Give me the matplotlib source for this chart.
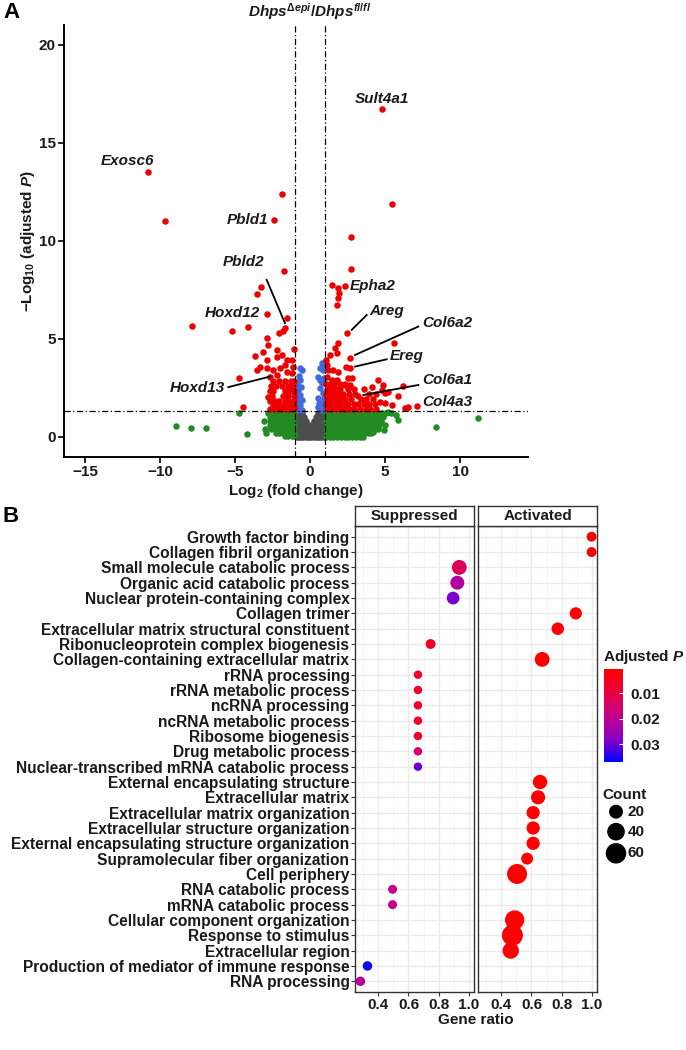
#!/usr/bin/env python3
"""Volcano plot (A) and GO enrichment dot plot (B)."""

import numpy as np
import matplotlib
matplotlib.use('Agg')
import matplotlib.pyplot as plt
from matplotlib.colors import LinearSegmentedColormap, Normalize
from matplotlib.colorbar import ColorbarBase

plt.rcParams['font.family'] = ['Liberation Sans', 'DejaVu Sans']
plt.rcParams['font.weight'] = 'bold'
plt.rcParams['mathtext.fontset'] = 'custom'
plt.rcParams['mathtext.rm'] = 'Liberation Sans:bold'
plt.rcParams['mathtext.it'] = 'Liberation Sans:italic:bold'
plt.rcParams['mathtext.bf'] = 'Liberation Sans:bold'

# ---------------- panel A data (log2 fold change, -log10 adjusted P) ----------------
red_x = [4.82, -10.82, -1.85, 5.49, -9.67, -2.4, 2.71, -1.73, 2.71, -3.29, -3.56,
         1.44, 1.89, 2.33, 1.96, 1.89, 1.82, -2.89, -1.55, -7.85, -5.18, -4.11,
         -1.67, -1.78, -2.05, -2.89, 2.44, 5.62, 1.84, 1.67, 1.78, 1.33, 1.04, 1.11,
         2.67, 2.67, 2.38, 1.22, 1.56, 1.89, 1.11, 1.44, 1.78, 2.56, 2.78, 2.33, 2.67,
         4.56, 4.89, 6.22, 3.22, 4.78, 5.0, 5.22, 5.89, 4.11, 7.11, 6.56, 6.33, 6.44,
         5.0, 5.44, 4.67,
         -1.07, -2.78, -3.11, -3.67, -2.89, -2.22, -2.22, -1.89, -1.55, -1.22, -1.11,
         -3.33, -2.89, -3.55, -2.45, -2.0, -1.67, -1.55, -1.22, -2.22, -2.67, -4.71,
         -2.78, -4.49,
         -2.5, -2.1, -1.7, -1.3, -1.05,
         -2.6, -2.3, -1.9, -1.5, -1.15,
         -2.7, -2.45, -1.65, -1.35, -1.05,
         -2.55, -1.8, -1.45, -1.1,
         -2.65, -2.35, -2.05, -1.7, -1.4, -1.1,
         -2.5, -2.2, -1.9, -1.6, -1.3, -1.05,
         -2.7, -2.35, -2.0, -1.7, -1.4, -1.1,
         1.05, 1.3, 1.6, 2.0, 2.3,
         1.1, 1.4, 1.7, 2.0, 2.5, 2.9, 3.6,
         1.05, 1.3, 1.6, 1.9, 2.2, 2.6, 3.0, 3.9, 4.4,
         1.1, 1.4, 1.7, 2.0, 2.3, 2.7, 3.4, 3.7, 4.2,
         1.05, 1.35, 1.65, 1.95, 2.25, 2.55, 2.9, 3.2, 3.6, 3.95, 4.3,
         1.1, 1.4, 1.7, 2.0, 2.3, 2.6, 2.9, 3.3, 3.7, 4.0, 4.4]
red_y = [16.72, 13.5, 12.41, 11.89, 11.02, 11.07, 10.17, 8.48, 8.57, 7.67, 7.30,
         7.76, 7.59, 7.7, 7.36, 7.07, 6.73, 6.28, 6.09, 5.68, 5.42, 5.6,
         5.58, 5.42, 5.29, 5.04, 5.32, 4.81, 4.81, 4.52, 4.27, 4.18, 3.93, 3.67,
         4.01, 3.5, 3.59, 3.42, 3.42, 3.33, 3.08, 2.91, 2.91, 2.99, 2.99, 2.65, 2.65,
         2.91, 2.65, 2.6, 2.09, 2.4, 2.23, 2.31, 2.09, 2.57, 1.6, 1.55, 1.46, 1.49,
         1.72, 1.63, 1.8,
         4.47, 4.69, 4.35, 4.13, 3.93, 4.1, 4.44, 4.18, 3.93, 3.93, 3.59,
         3.59, 3.5, 3.42, 3.42, 3.5, 3.67, 3.33, 3.25, 3.16, 3.08, 3.03,
         2.06, 1.55,
         2.85, 2.85, 2.85, 2.85, 2.85,
         2.6, 2.6, 2.6, 2.6, 2.6,
         2.35, 2.35, 2.35, 2.35, 2.35,
         2.1, 2.1, 2.1, 2.1,
         1.85, 1.85, 1.85, 1.85, 1.85, 1.85,
         1.6, 1.6, 1.6, 1.6, 1.6, 1.6,
         1.42, 1.42, 1.42, 1.42, 1.42, 1.42,
         2.7, 2.7, 2.7, 2.7, 2.7,
         2.45, 2.45, 2.45, 2.45, 2.45, 2.45, 2.45,
         2.2, 2.2, 2.2, 2.2, 2.2, 2.2, 2.2, 2.2, 2.2,
         1.95, 1.95, 1.95, 1.95, 1.95, 1.95, 1.95, 1.95, 1.95,
         1.7, 1.7, 1.7, 1.7, 1.7, 1.7, 1.7, 1.7, 1.7, 1.7, 1.7,
         1.45, 1.45, 1.45, 1.45, 1.45, 1.45, 1.45, 1.45, 1.45, 1.45, 1.45]

blue_x = [-0.67, -0.56, -0.67, -0.89, -0.8, -0.67, -0.56, -0.67, -0.89, -0.55, -0.75,
          -0.85, -0.95, -0.95, -0.75, -0.62, -0.8,
          0.78, 0.67, 0.89, 0.56, 0.78, 0.67, 0.89, 0.56, 0.78, 0.56, 0.89, 0.7,
          0.95, 0.65, 0.95, 0.85, 0.6, 0.95]
blue_y = [3.5, 3.42, 2.91, 2.65, 2.4, 2.14, 1.89, 1.63, 1.46, 1.4, 1.8,
          2.0, 1.7, 2.2, 3.1, 2.55, 1.4,
          3.76, 3.5, 3.42, 3.08, 2.74, 2.48, 2.23, 1.97, 1.72, 1.55, 1.46, 1.4,
          2.0, 2.9, 3.0, 3.65, 1.75, 1.6]

green_x = [-8.91, -7.93, -6.93, -4.22, -4.73, -3.07, -3.0, -2.93, -2.78,
           5.85, 5.73, 8.38, 11.22, 5.2, 5.4, 5.0, 4.9, 4.22,
           -2.75, -2.5, -2.25, -2.0, -1.75, -1.5, -1.25, -1.05,
           -2.7, -2.45, -2.2, -1.95, -1.7, -1.45, -1.2, -1.05,
           -2.65, -2.4, -2.15, -1.9, -1.65, -1.4, -1.15,
           -2.7, -2.45, -2.2, -1.95, -1.7, -1.45, -1.2, -1.05,
           -2.6, -2.35, -2.1, -1.85, -1.6, -1.35, -1.1,
           -2.3, -2.05, -1.8, -1.55, -1.3, -1.05,
           -1.7, -1.45, -1.2, -1.05,
           1.05, 1.3, 1.55, 1.8, 2.05, 2.3, 2.55, 2.8, 3.05, 3.3, 3.55, 3.8, 4.05, 4.3, 4.55, 4.8, 5.05,
           1.1, 1.35, 1.6, 1.85, 2.1, 2.35, 2.6, 2.85, 3.1, 3.35, 3.6, 3.85, 4.1, 4.35, 4.6, 4.85,
           1.05, 1.3, 1.55, 1.8, 2.05, 2.3, 2.55, 2.8, 3.05, 3.3, 3.55, 3.8, 4.05, 4.3, 4.55, 4.75,
           1.1, 1.35, 1.6, 1.85, 2.1, 2.35, 2.6, 2.85, 3.1, 3.35, 3.6, 3.85, 4.1, 4.35, 4.6,
           1.05, 1.3, 1.55, 1.8, 2.05, 2.3, 2.55, 2.8, 3.05, 3.3, 3.55, 3.8, 4.05, 4.3, 4.5,
           1.1, 1.35, 1.6, 1.85, 2.1, 2.35, 2.6, 2.85, 3.1, 3.35, 3.6, 3.85, 4.05,
           1.05, 1.3, 1.55, 1.8, 2.05, 2.3, 2.55, 2.8, 3.05, 3.3, 3.5]
green_y = [0.58, 0.46, 0.44, 0.15, 1.21, 0.82, 0.39, 0.19, 1.21,
           0.87, 1.12, 0.53, 0.98, 1.25, 1.2, 0.6, 0.35, 0.27,
           1.22, 1.22, 1.22, 1.22, 1.22, 1.22, 1.22, 1.22,
           1.0, 1.0, 1.0, 1.0, 1.0, 1.0, 1.0, 1.0,
           0.8, 0.8, 0.8, 0.8, 0.8, 0.8, 0.8,
           0.6, 0.6, 0.6, 0.6, 0.6, 0.6, 0.6, 0.6,
           0.4, 0.4, 0.4, 0.4, 0.4, 0.4, 0.4,
           0.2, 0.2, 0.2, 0.2, 0.2, 0.2,
           0.05, 0.05, 0.05, 0.05,
           1.22, 1.22, 1.22, 1.22, 1.22, 1.22, 1.22, 1.22, 1.22, 1.22, 1.22, 1.22, 1.22, 1.22, 1.22, 1.22, 1.22,
           1.0, 1.0, 1.0, 1.0, 1.0, 1.0, 1.0, 1.0, 1.0, 1.0, 1.0, 1.0, 1.0, 1.0, 1.0, 1.0,
           0.8, 0.8, 0.8, 0.8, 0.8, 0.8, 0.8, 0.8, 0.8, 0.8, 0.8, 0.8, 0.8, 0.8, 0.8, 0.8,
           0.6, 0.6, 0.6, 0.6, 0.6, 0.6, 0.6, 0.6, 0.6, 0.6, 0.6, 0.6, 0.6, 0.6, 0.6,
           0.4, 0.4, 0.4, 0.4, 0.4, 0.4, 0.4, 0.4, 0.4, 0.4, 0.4, 0.4, 0.4, 0.4, 0.4,
           0.2, 0.2, 0.2, 0.2, 0.2, 0.2, 0.2, 0.2, 0.2, 0.2, 0.2, 0.2, 0.2,
           0.02, 0.02, 0.02, 0.02, 0.02, 0.02, 0.02, 0.02, 0.02, 0.02, 0.02]

gray_x = [-0.95, -0.8, -0.65, -0.55, 0.55, 0.65, 0.8, 0.95,
          -0.95, -0.8, -0.65, -0.5, -0.4, 0.4, 0.5, 0.65, 0.8, 0.95,
          -0.95, -0.8, -0.65, -0.5, -0.35, -0.25, 0.25, 0.35, 0.5, 0.65, 0.8, 0.95,
          -0.95, -0.8, -0.65, -0.5, -0.35, -0.2, -0.1, 0.1, 0.2, 0.35, 0.5, 0.65, 0.8, 0.95,
          -0.9, -0.75, -0.6, -0.45, -0.3, -0.15, 0.0, 0.15, 0.3, 0.45, 0.6, 0.75, 0.9,
          -0.9, -0.75, -0.6, -0.45, -0.3, -0.15, 0.0, 0.15, 0.3, 0.45, 0.6, 0.75, 0.9,
          -0.9, -0.75, -0.6, -0.45, -0.3, -0.15, 0.0, 0.15, 0.3, 0.45, 0.6, 0.75, 0.9]
gray_y = [1.22] * 8 + [1.0] * 10 + [0.8] * 12 + [0.6] * 14 + [0.4] * 13 + [0.2] * 13 + [0.0] * 13

gene_names = ['Sult4a1', 'Exosc6', 'Pbld1', 'Pbld2', 'Epha2', 'Hoxd12', 'Areg',
              'Col6a2', 'Ereg', 'Hoxd13', 'Col6a1', 'Col4a3']
gene_label_x = [4.78, -12.15, -2.8, -4.4, 2.67, -3.33, 3.93, 7.45, 5.33, -5.67, 7.45, 7.51]
gene_label_y = [17.24, 14.08, 11.04, 8.94, 7.7, 6.31, 6.44, 5.8, 4.13, 2.48, 2.91, 1.8]
gene_label_ha = ['center', 'center', 'right', 'center', 'left', 'right', 'left',
                 'left', 'left', 'right', 'left', 'left']
# connector lines: (label end) -> (point end)
conn_x0 = [-2.89, 3.78, 7.22, 5.11, -5.45, 7.22]
conn_y0 = [8.01, 6.22, 5.63, 3.96, 2.54, 2.65]
conn_x1 = [-1.67, 2.78, 3.0, 3.0, -2.67, 3.55]
conn_y1 = [5.8, 5.46, 4.18, 3.59, 3.08, 2.14]

# ---------------- panel B data ----------------
terms = ['Growth factor binding', 'Collagen fibril organization',
         'Small molecule catabolic process', 'Organic acid catabolic process',
         'Nuclear protein-containing complex', 'Collagen trimer',
         'Extracellular matrix structural constituent', 'Ribonucleoprotein complex biogenesis',
         'Collagen-containing extracellular matrix', 'rRNA processing',
         'rRNA metabolic process', 'ncRNA processing', 'ncRNA metabolic process',
         'Ribosome biogenesis', 'Drug metabolic process',
         'Nuclear-transcribed mRNA catabolic process', 'External encapsulating structure',
         'Extracellular matrix', 'Extracellular matrix organization',
         'Extracellular structure organization',
         'External encapsulating structure organization', 'Supramolecular fiber organization',
         'Cell periphery', 'RNA catabolic process', 'mRNA catabolic process',
         'Cellular component organization', 'Response to stimulus', 'Extracellular region',
         'Production of mediator of immune response', 'RNA processing']

sup_terms = ['Small molecule catabolic process', 'Organic acid catabolic process',
             'Nuclear protein-containing complex', 'Ribonucleoprotein complex biogenesis',
             'rRNA processing', 'rRNA metabolic process', 'ncRNA processing',
             'ncRNA metabolic process', 'Ribosome biogenesis', 'Drug metabolic process',
             'Nuclear-transcribed mRNA catabolic process', 'RNA catabolic process',
             'mRNA catabolic process', 'Production of mediator of immune response',
             'RNA processing']
sup_ratio = [0.938, 0.925, 0.897, 0.747, 0.663, 0.663, 0.663, 0.663, 0.663, 0.663,
             0.663, 0.494, 0.494, 0.327, 0.28]
sup_count = [24, 20, 15, 6, 3, 3, 3, 3, 3, 3, 3, 4, 4, 5, 5]
sup_padj = [0.013, 0.022, 0.029, 0.005, 0.007, 0.007, 0.007, 0.007, 0.007, 0.014,
            0.030, 0.019, 0.019, 0.036, 0.021]

act_terms = ['Growth factor binding', 'Collagen fibril organization', 'Collagen trimer',
             'Extracellular matrix structural constituent',
             'Collagen-containing extracellular matrix', 'External encapsulating structure',
             'Extracellular matrix', 'Extracellular matrix organization',
             'Extracellular structure organization',
             'External encapsulating structure organization',
             'Supramolecular fiber organization', 'Cell periphery',
             'Cellular component organization', 'Response to stimulus',
             'Extracellular region']
act_ratio = [1.0, 1.0, 0.895, 0.775, 0.671, 0.657, 0.644, 0.611, 0.611, 0.611,
             0.571, 0.504, 0.488, 0.473, 0.462]
act_count = [6, 6, 13, 14, 24, 22, 21, 17, 17, 17, 12, 56, 51, 64, 32]
act_padj = [0.001, 0.001, 0.001, 0.001, 0.001, 0.001, 0.001, 0.001, 0.001, 0.001,
            0.001, 0.001, 0.001, 0.001, 0.001]

count_breaks = [20, 40, 60]
padj_ticks = [0.01, 0.02, 0.03]

W, H = 686, 1050
fig = plt.figure(figsize=(W / 100, H / 100), dpi=100)


def px_axes(left, top, right, bottom):
    return fig.add_axes([left / W, 1 - bottom / H, (right - left) / W, (bottom - top) / H])


def ftext(x, y, s, **kw):
    return fig.text(x / W, 1 - y / H, s, **kw)


# ---------------- panel A ----------------
ax = px_axes(64, 25, 528, 456.6)
pt = 22
ax.scatter(gray_x, gray_y, s=pt, color='#4D4D4D', linewidths=0, zorder=2)
ax.scatter(green_x, green_y, s=pt, color='#228B22', linewidths=0, zorder=2)
ax.scatter(blue_x, blue_y, s=pt, color='#4169E1', linewidths=0, zorder=2)
ax.scatter(red_x, red_y, s=pt, color='#EE0000', linewidths=0, zorder=3)

dash = (0, (5, 2, 1, 2))
for xv in (-1, 1):
    ax.axvline(xv, color='black', lw=0.9, ls=dash, zorder=4)
ax.axhline(1.3, color='black', lw=0.9, ls=dash, zorder=4)

for x0, y0, x1, y1 in zip(conn_x0, conn_y0, conn_x1, conn_y1):
    ax.plot([x0, x1], [y0, y1], color='black', lw=1.3, zorder=5)
for name, lx, ly, ha in zip(gene_names, gene_label_x, gene_label_y, gene_label_ha):
    ax.text(lx, ly, name, ha=ha, va='center', fontsize=11, fontstyle='italic',
            fontweight='bold', color='#1a1a1a', zorder=6)

ax.set_xlim(-16.4, 14.53)
ax.set_ylim(-1, 21)
ax.set_xticks([-15, -10, -5, 0, 5, 10])
ax.set_yticks([0, 5, 10, 15, 20])
for side in ('top', 'right'):
    ax.spines[side].set_visible(False)
for side in ('left', 'bottom'):
    ax.spines[side].set_linewidth(1.4)
ax.tick_params(direction='out', length=4, width=1.2, labelsize=11, pad=2,
               labelcolor='#1a1a1a')
for lab in ax.get_xticklabels() + ax.get_yticklabels():
    lab.set_fontweight('bold')
ax.set_xlabel('Log$_2$ (fold change)', fontsize=11, fontweight='bold', labelpad=2,
              color='#1a1a1a')
ax.set_ylabel('\u2212Log$_{10}$ (adjusted $P$)', fontsize=11, fontweight='bold',
              labelpad=1, color='#1a1a1a')

ftext(310, 12, r'$Dhps^{\Delta epi}/Dhps^{fl/fl}$', ha='center', va='center',
      fontsize=11, color='#1a1a1a')
ftext(12, 13, 'A', ha='center', va='center', fontsize=16, fontweight='bold')
ftext(11, 517, 'B', ha='center', va='center', fontsize=16, fontweight='bold')

# ---------------- panel B ----------------
cmap = LinearSegmentedColormap.from_list(
    'padj', [(0.0, '#FF0000'), (0.25, '#E8003F'), (0.5, '#C4008A'),
             (0.75, '#8B00C4'), (1.0, '#0000FF')])
norm = Normalize(vmin=0.0006, vmax=0.037)


def dot_size(count):
    d_px = 5 + 2 * np.sqrt(np.asarray(count, dtype=float))
    return (d_px * 0.72) ** 2


row_of = {t: i for i, t in enumerate(terms)}
nrow = len(terms)
ax_s = px_axes(355, 526, 474, 992)
ax_a = px_axes(478, 526, 597, 992)
for axp, tl, ratio, cnt, padj, strip_label, left in (
        (ax_s, sup_terms, sup_ratio, sup_count, sup_padj, 'Suppressed', 355),
        (ax_a, act_terms, act_ratio, act_count, act_padj, 'Activated', 478)):
    ys = [row_of[t] for t in tl]
    axp.scatter(ratio, ys, s=dot_size(cnt), c=padj, cmap=cmap, norm=norm,
                linewidths=0, zorder=3, clip_on=True)
    axp.set_xlim(0.244, 1.036)
    axp.set_ylim(nrow - 1 + 0.7, -0.7)
    axp.set_xticks([0.4, 0.6, 0.8, 1.0])
    axp.set_xticklabels(['0.4', '0.6', '0.8', '1.0'])
    axp.set_xticks([0.3, 0.5, 0.7, 0.9], minor=True)
    axp.set_yticks(range(nrow))
    axp.grid(True, which='major', color='#EBEBEB', lw=1.0, zorder=0)
    axp.grid(True, which='minor', axis='x', color='#F2F2F2', lw=0.6, zorder=0)
    axp.set_axisbelow(True)
    for sp in axp.spines.values():
        sp.set_color('#333333')
        sp.set_linewidth(1.0)
    axp.tick_params(axis='x', which='major', length=3, color='#333333',
                    labelsize=11, pad=1, labelcolor='#1a1a1a')
    axp.tick_params(axis='x', which='minor', length=0)
    for lab in axp.get_xticklabels():
        lab.set_fontweight('bold')
    strip = px_axes(left, 506, left + 119, 526)
    strip.set_xticks([])
    strip.set_yticks([])
    for sp in strip.spines.values():
        sp.set_color('#333333')
        sp.set_linewidth(1.0)
    strip.text(0.5, 0.48, strip_label, transform=strip.transAxes, ha='center',
               va='center', fontsize=11, fontweight='bold', color='#1a1a1a')

ax_s.set_yticklabels(terms)
ax_s.tick_params(axis='y', length=3, color='#333333', labelsize=11.2, pad=1,
                 labelcolor='#1a1a1a')
for lab in ax_s.get_yticklabels():
    lab.set_fontweight('bold')
ax_a.tick_params(axis='y', length=0, labelleft=False)

ftext(476, 1020, 'Gene ratio', ha='center', va='center', fontsize=11,
      fontweight='bold', color='#1a1a1a')

# colour bar legend
cax = px_axes(604, 669, 623, 762)
cb = ColorbarBase(cax, cmap=cmap, norm=norm, orientation='vertical')
cax.invert_yaxis()
cb.set_ticks(padj_ticks)
cb.set_ticklabels(['0.01', '0.02', '0.03'])
cb.outline.set_visible(False)
cax.tick_params(axis='y', direction='in', length=3, color='white', width=0.8,
                labelsize=11, labelcolor='#1a1a1a', pad=5)
for lab in cax.get_yticklabels():
    lab.set_fontweight('bold')
ftext(603, 657, 'Adjusted $P$', ha='left', va='center', fontsize=11,
      fontweight='bold', color='#1a1a1a')

# size legend
lax = px_axes(596, 785, 686, 870)
lax.set_xlim(596, 686)
lax.set_ylim(870, 785)
lax.axis('off')
leg_y = [811.7, 831.7, 853.3]
lax.scatter([616] * len(count_breaks), leg_y, s=dot_size(count_breaks), color='black',
            linewidths=0, clip_on=False)
for yv, cv in zip(leg_y, count_breaks):
    lax.text(628, yv, str(cv), ha='left', va='center', fontsize=11, fontweight='bold',
             color='#1a1a1a')
ftext(602, 795, 'Count', ha='left', va='center', fontsize=11, fontweight='bold',
      color='#1a1a1a')

fig.savefig('out.png', dpi=100)
